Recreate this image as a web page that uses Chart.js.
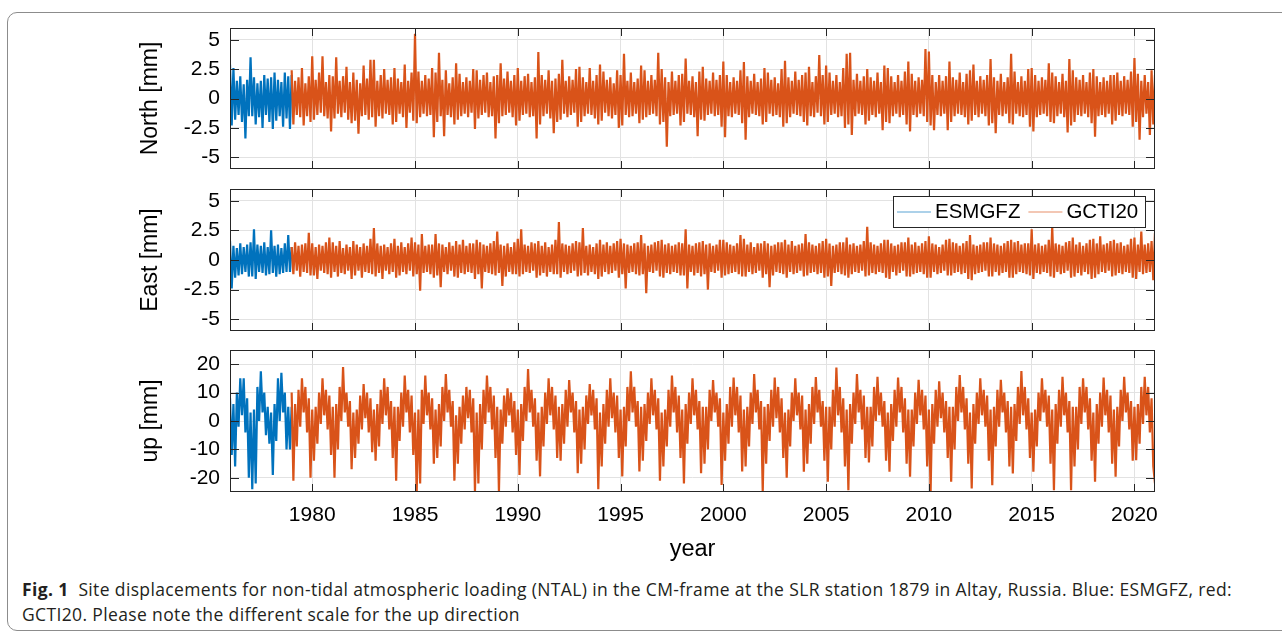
<!DOCTYPE html>
<html><head><meta charset="utf-8">
<script src="https://cdn.jsdelivr.net/npm/chart.js@4"></script>
<style>
html,body{margin:0;padding:0;background:#fff;width:1282px;height:632px;overflow:hidden;position:relative}
.frame{position:absolute;left:7px;top:12px;width:1320px;height:619px;border:1px solid #8c8c8c;border-radius:10px;box-sizing:border-box}
canvas{position:absolute;left:0}
#c1{top:0} #c2{top:180px} #c3{top:340px}
.caption{position:absolute;left:22px;top:577px;font-family:'Open Sans',sans-serif;font-size:17.5px;line-height:25px;color:#231f20;white-space:nowrap}
.caption b{font-weight:700}
</style></head>
<body>
<div class="frame"></div>
<canvas id="c1" width="1282" height="180"></canvas>
<canvas id="c2" width="1282" height="160"></canvas>
<canvas id="c3" width="1282" height="235"></canvas>
<div class="caption" id="cap"><span id="l1"><b>Fig. 1</b>&nbsp; Site displacements for non-tidal atmospheric loading (NTAL) in the CM-frame at the SLR station 1879 in Altay, Russia. Blue: ESMGFZ, red:</span><br><span id="l2">GCTI20. Please note the different scale for the up direction</span></div>
<script>
// ---- labels / ticks ----
const seriesNames = ['ESMGFZ', 'GCTI20'];
const seriesColors = ['#0072BD', '#D95319'];
const panelTitles = ['North [mm]', 'East [mm]', 'up [mm]'];
const xTitle = 'year';
const xTickValues = [1980, 1985, 1990, 1995, 2000, 2005, 2010, 2015, 2020];
const neTickValues = [-5, -2.5, 0, 2.5, 5];
const upTickValues = [-20, -10, 0, 10, 20];
const xRange = [1976, 2021];
const esmgfzStart = 1976, gcti20Start = 1979, sampleStep = 1 / 12;

// ---- data: monthly readings (one row per year, alternating local highs / lows) ----
const northESMGFZ = [
 2.9,-2.3,2.6,-1.8,1.5,-1.4,1.9,-2.0,1.2,-3.4,1.6,-1.5,
 3.5,-1.5,1.8,-2.2,1.3,-1.6,1.5,-2.5,2.0,-1.4,1.7,-2.0,
 1.8,-2.6,2.2,-1.9,1.6,-1.5,1.4,-2.4,2.2,-1.7,1.9,-2.6,
 2.0];
const northGCTI20 = [
 2.4,-2.2,1.5,-1.4,1.8,-1.6,2.6,-2.3,1.3,-1.5,1.9,-2.0,
 3.6,-1.8,1.6,-1.4,2.2,-1.2,3.6,-1.5,1.4,-1.7,2.0,-2.8,
 1.9,-1.7,3.5,-1.3,1.5,-1.6,1.9,-1.2,2.7,-1.8,1.4,-2.1,
 2.2,-1.9,1.6,-3.0,1.3,-1.5,2.8,-1.4,1.7,-1.8,3.3,-1.6,
 3.3,-2.4,1.5,-1.5,2.0,-1.7,2.5,-1.3,1.6,-1.4,1.8,-2.2,
 2.6,-2.0,1.7,-1.3,1.4,-1.6,2.9,-2.5,1.5,-1.2,2.2,-1.9,
 5.5,-2.1,2.3,-1.6,1.5,-1.3,2.0,-1.5,1.7,-1.4,2.6,-3.3,
 2.2,-2.0,3.9,-1.5,1.6,-3.2,2.4,-1.4,1.3,-1.6,1.8,-2.2,
 3.0,-1.8,2.1,-1.5,1.4,-1.3,1.8,-1.6,1.5,-1.2,2.5,-2.6,
 2.4,-1.7,1.6,-1.4,2.0,-1.2,2.2,-1.6,1.4,-1.5,1.9,-3.4,
 2.0,-2.1,3.0,-1.5,1.7,-1.4,2.3,-1.2,1.5,-1.6,2.0,-2.3,
 2.6,-1.9,1.5,-1.4,1.9,-1.3,2.1,-1.6,1.4,-1.5,1.8,-3.4,
 3.95,-2.2,2.0,-1.5,1.6,-1.3,2.4,-1.7,1.5,-2.95,1.7,-2.0,
 2.1,-1.8,3.3,-1.3,1.5,-1.6,1.9,-1.4,1.6,-1.2,2.5,-2.4,
 2.7,-2.0,1.8,-1.5,1.4,-1.3,2.6,-1.4,1.5,-1.7,2.0,-2.2,
 2.9,-1.9,2.3,-1.2,1.6,-1.5,1.8,-1.7,1.3,-1.4,2.4,-2.5,
 2.0,-2.3,3.8,-1.4,1.5,-1.6,2.2,-1.5,1.4,-1.3,1.7,-2.1,
 2.8,-1.8,2.4,-1.6,1.5,-1.4,2.0,-1.3,1.6,-1.5,3.9,-2.2,
 2.5,-2.0,1.8,-4.1,1.4,-1.5,2.3,-1.4,1.5,-1.3,2.0,-2.3,
 2.1,-2.0,3.4,-1.3,1.5,-1.4,1.9,-1.6,1.4,-3.2,2.3,-1.8,
 2.7,-1.9,1.7,-1.4,1.5,-1.3,2.2,-1.5,1.6,-1.4,2.0,-2.4,
 3.15,-3.3,2.0,-1.5,1.4,-1.6,1.8,-1.3,1.5,-1.4,2.4,-2.1,
 3.1,-3.5,1.9,-1.6,1.5,-1.3,2.1,-1.4,1.4,-1.5,1.7,-2.2,
 2.6,-2.0,2.2,-1.3,1.6,-1.5,1.8,-1.4,1.3,-1.6,2.5,-2.4,
 3.2,-2.1,1.8,-1.6,1.5,-1.3,2.3,-1.4,1.6,-1.5,2.0,-2.0,
 2.2,-2.3,2.7,-1.5,1.4,-1.6,1.9,-1.2,3.7,-1.5,2.0,-2.2,
 2.8,-2.0,2.2,-1.4,1.5,-1.3,2.0,-1.6,1.4,-1.5,2.6,-2.5,
 3.8,-2.2,3.9,-3.1,1.6,-1.5,2.1,-1.3,1.5,-1.4,1.9,-2.2,
 2.5,-1.9,1.8,-1.4,1.5,-1.6,2.2,-1.3,1.4,-2.7,2.8,-2.0,
 2.6,-2.1,1.9,-1.5,1.4,-1.3,2.0,-1.6,1.5,-1.4,2.3,-2.2,
 3.15,-2.8,2.1,-1.4,1.5,-1.6,1.8,-1.3,1.6,-1.5,4.2,-2.0,
 4.0,-2.3,2.0,-2.7,1.4,-1.4,2.0,-1.5,1.5,-1.3,1.9,-2.7,
 3.15,-2.0,1.8,-1.5,1.6,-1.3,2.2,-1.4,1.4,-1.6,2.1,-2.2,
 2.4,-1.9,2.9,-1.4,1.5,-1.6,1.9,-1.3,1.6,-1.5,2.0,-2.3,
 3.35,-2.1,1.8,-2.95,1.5,-1.4,2.1,-1.5,1.4,-1.3,1.8,-2.1,
 3.8,-2.2,2.3,-1.3,1.4,-1.5,1.9,-1.6,1.5,-1.4,2.5,-2.4,
 2.6,-2.8,2.0,-1.6,1.5,-1.4,1.8,-1.3,1.6,-1.5,3.0,-2.0,
 2.2,-2.1,1.9,-1.5,1.4,-1.3,2.1,-1.6,1.5,-2.9,3.35,-2.3,
 2.4,-2.0,1.8,-1.4,1.6,-1.5,2.0,-1.3,1.4,-1.6,2.2,-2.1,
 2.5,-3.25,1.9,-1.5,1.4,-1.4,1.8,-1.6,1.5,-1.3,2.0,-2.2,
 2.0,-1.9,2.2,-1.4,1.5,-1.5,1.9,-1.3,1.6,-1.4,2.3,-2.4,
 3.45,-2.0,2.1,-3.5,1.5,-1.6,2.0,-1.3,1.4,-3.1,2.4,-2.2,
 2.0];

const eastESMGFZ = [
 1.6,-2.4,1.2,-1.5,1.0,-1.3,1.4,-1.2,1.1,-1.0,1.3,-1.4,
 1.5,-1.4,2.6,-1.6,1.3,-1.0,1.2,-1.1,1.5,-1.3,1.1,-1.2,
 2.5,-1.1,1.2,-1.4,1.3,-1.2,1.0,-1.1,1.4,-1.0,2.1,-1.0,
 1.1];
const eastGCTI20 = [
 1.1,-1.2,1.5,-0.9,1.2,-1.4,1.3,-1.0,1.4,-1.1,2.3,-1.3,
 1.4,-1.3,1.1,-1.6,1.3,-0.9,1.2,-1.1,1.5,-1.2,1.9,-1.5,
 1.5,-1.0,1.2,-1.4,1.6,-1.1,1.0,-1.2,1.3,-0.9,1.1,-1.6,
 1.6,-1.3,1.3,-0.9,1.1,-1.5,1.4,-1.0,1.2,-1.1,1.8,-1.2,
 2.7,-1.4,1.4,-1.1,1.2,-1.6,1.3,-0.9,1.1,-1.2,1.4,-1.0,
 1.8,-1.5,1.2,-1.3,1.5,-1.0,1.1,-1.2,1.4,-0.9,1.9,-1.4,
 1.5,-1.2,1.3,-2.6,2.2,-1.1,1.2,-1.0,1.3,-1.2,1.3,-1.5,
 2.2,-1.3,1.4,-2.3,1.3,-1.0,1.1,-1.2,1.5,-0.9,1.2,-1.4,
 1.6,-1.5,1.3,-1.1,1.7,-1.2,1.2,-1.0,1.4,-1.1,1.4,-1.6,
 1.7,-1.2,1.5,-2.4,1.3,-1.0,1.2,-1.1,1.4,-1.2,1.6,-1.3,
 2.4,-1.1,1.3,-2.2,1.2,-1.4,1.4,-1.0,1.1,-1.2,1.5,-1.2,
 1.8,-1.4,2.6,-1.2,1.3,-1.0,1.2,-1.1,1.5,-0.9,1.4,-1.5,
 1.6,-1.3,1.2,-1.1,1.5,-1.4,1.1,-1.0,1.3,-1.2,1.7,-1.2,
 3.2,-1.5,1.4,-1.0,1.3,-1.2,1.2,-1.1,1.4,-0.9,1.6,-1.4,
 1.5,-1.3,2.7,-1.1,1.2,-1.3,1.3,-1.0,1.1,-1.2,1.4,-1.6,
 1.7,-1.4,1.3,-1.0,1.5,-1.2,1.2,-1.1,1.4,-0.9,1.6,-1.5,
 1.8,-1.2,1.4,-2.4,1.3,-1.1,1.2,-1.0,1.4,-1.2,1.5,-1.3,
 2.1,-1.2,1.4,-2.8,1.2,-1.0,1.3,-1.1,1.5,-0.9,1.6,-1.4,
 1.7,-1.5,1.3,-1.1,1.4,-1.2,1.2,-1.0,1.3,-1.1,1.5,-1.3,
 1.4,-1.3,2.6,-2.4,1.3,-1.0,1.2,-1.3,1.4,-1.1,1.5,-1.4,
 1.6,-1.2,1.3,-2.5,1.4,-1.0,1.2,-1.1,1.3,-0.9,1.7,-1.5,
 1.7,-1.3,1.5,-1.2,1.3,-1.1,1.2,-1.0,1.4,-1.2,2.1,-1.4,
 1.8,-1.4,1.3,-1.0,1.5,-1.2,1.1,-1.1,1.4,-0.9,1.4,-1.5,
 1.6,-1.2,1.4,-2.3,1.2,-1.3,1.3,-1.0,1.5,-1.1,1.5,-1.2,
 1.7,-1.5,1.3,-1.0,1.6,-1.2,1.2,-1.1,1.3,-0.9,1.4,-1.4,
 2.2,-1.3,1.5,-1.1,1.3,-1.0,1.2,-1.2,1.4,-1.1,1.6,-1.5,
 1.8,-1.4,1.4,-2.2,1.2,-1.1,1.3,-1.0,1.5,-1.2,1.5,-1.3,
 1.9,-1.5,1.3,-1.2,1.4,-1.0,1.2,-1.1,1.3,-0.9,1.6,-1.4,
 2.8,-1.3,1.5,-1.1,1.3,-1.2,1.2,-1.0,1.4,-1.1,1.7,-1.5,
 1.7,-1.6,1.4,-1.0,1.2,-1.3,1.3,-1.1,1.5,-0.9,1.5,-1.4,
 1.9,-1.4,1.3,-1.2,1.5,-1.1,1.2,-1.0,1.4,-1.2,1.6,-1.5,
 2.0,-1.5,1.4,-1.0,1.3,-1.2,1.1,-1.1,1.3,-0.9,1.7,-1.3,
 1.8,-1.3,1.5,-1.1,1.4,-1.0,1.2,-1.2,1.4,-1.1,1.6,-1.6,
 2.1,-1.7,1.3,-1.2,1.2,-1.1,1.3,-1.0,1.5,-0.9,1.5,-1.4,
 1.9,-1.4,1.4,-1.0,1.3,-1.3,1.2,-1.1,1.4,-1.0,1.6,-1.5,
 1.7,-1.5,1.5,-1.2,1.6,-1.0,1.3,-1.1,1.4,-1.2,1.4,-1.3,
 2.6,-1.6,1.3,-1.1,1.4,-1.2,1.2,-1.0,1.3,-1.1,1.7,-1.4,
 2.8,-1.5,1.4,-1.0,1.3,-1.2,1.2,-1.1,1.5,-0.9,1.6,-1.5,
 1.9,-1.4,1.3,-1.1,1.5,-1.3,1.2,-1.0,1.4,-1.2,1.7,-1.6,
 1.8,-1.5,1.4,-1.2,2.0,-1.0,1.3,-1.1,1.4,-0.9,1.6,-1.4,
 1.7,-1.3,1.4,-1.1,1.5,-1.2,1.2,-1.0,1.3,-1.1,1.8,-1.5,
 1.9,-1.6,1.3,-1.0,2.4,-1.2,1.3,-1.1,1.4,-1.0,1.6,-1.7,
 2.3];

const upESMGFZ = [
 8,-12,6,-16,10,-2,15,2,15,-4,8,-20,
 3,-24,4,-22,12,0,17.5,3,10,-5,5,-8,
 3,-19,6,-7,15,0,17,3,10,-10,5,-10,
 5];
const upGCTI20 = [
 10,-21,6,-9,11,-2,15,3,12,-4,8,-20,
 4,-14,5,-8,10,-1,15,2,11,-3,9,-12,
 5,-20,6,-10,12,0,19,3,10,-2,7,-17,
 3,-13,4,-8,9,-3,13,1,10,-4,8,-11,
 4,-14,6,-9,11,-1,15,2,12,-3,7,-13,
 5,-21,5,-7,10,-2,16,3,11,-4,9,-12,
 3,-25,4,-22,11,-1,16,2,10,-3,8,-15,
 4,-13,6,-9,12,0,16.5,3,11,-2,7,-21,
 2,-15,5,-8,9,-3,12,1,11,-4,8,-25,
 3,-22,6,-10,11,-1,16,3,12,-3,9,-13,
 5,-25,4,-8,9,-2,11.5,2,10,-4,7,-12,
 4,-19,6,-7,12,0,18.3,3,11,-2,8,-14,
 3,-19.5,5,-9,10,-1,15,2,12,-3,9,-13,
 5,-14,6,-8,11,-2,14.4,3,10,-4,7,-18.4,
 4,-15,5,-10,9,-1,13,2,11,-3,8,-24,
 3,-16,6,-8,11,-2,15,1,10,-4,9,-13,
 4,-19.5,5,-9,12,0,17.5,3,12,-2,7,-17.8,
 5,-14,6,-7,10,-1,15,2,11,-3,8,-21,
 3,-16,4,-9,11,-2,16,3,12,-4,9,-13,
 4,-22,6,-8,10,-1,15,2,11,-3,7,-18.4,
 5,-15,5,-10,11,0,14.4,3,10,-2,8,-22.5,
 3,-14,6,-8,12,-2,15.3,2,12,-4,9,-17.8,
 4,-16,5,-9,10,-1,16.5,3,11,-3,7,-25,
 5,-15,6,-7,11,-2,15.3,1,12,-4,8,-13,
 3,-20,4,-9,10,0,15,2,10,-3,9,-17.9,
 4,-15,6,-8,12,-1,15.5,3,11,-2,7,-14,
 5,-21.4,5,-10,11,-2,18.8,2,12,-4,8,-16,
 4,-24.4,6,-8,10,-1,16.5,3,11,-3,9,-13,
 5,-14.6,5,-9,12,0,15.6,2,10,-2,7,-14,
 3,-17.9,6,-7,11,-2,15.3,3,12,-4,8,-15,
 4,-19.6,4,-9,10,-1,14.5,2,11,-3,9,-16,
 4,-24.9,6,-8,11,-2,14,1,10,-4,7,-13,
 5,-21.4,5,-10,12,0,16.2,3,12,-3,8,-15,
 3,-23.8,6,-8,10,-1,15,2,11,-2,9,-14,
 4,-22.6,5,-9,11,-2,14.5,3,10,-4,7,-16,
 5,-18.5,6,-7,12,-1,17.6,2,12,-3,8,-13,
 3,-17.9,4,-9,10,0,15,3,11,-2,9,-15,
 4,-24.4,6,-8,11,-2,15.6,2,10,-4,7,-24.4,
 5,-16,5,-10,12,-1,15,3,12,-3,8,-14,
 3,-21.4,6,-8,10,-2,15.3,2,11,-4,9,-15,
 4,-19.6,5,-9,11,0,15.6,3,10,-3,7,-14,
 5,-13.8,6,-8,12,-1,15.6,2,12,-4,8,-16,
 -22];

// ---- rendering ----
const FONT = "'Liberation Sans', Arial, Helvetica, sans-serif";
const toPoints = (start, arr) => arr.map((v, i) => ({x: start + i * sampleStep, y: v}));

const axesBoxPlugin = {
  id: 'axesBox',
  afterDatasetsDraw(chart) {
    const {ctx, chartArea: a, scales: {x, y}} = chart;
    ctx.save();
    ctx.strokeStyle = '#262626';
    ctx.lineWidth = 1;
    ctx.beginPath();
    x.ticks.forEach(t => {
      const px = Math.round(x.getPixelForValue(t.value)) + 0.5;
      ctx.moveTo(px, a.bottom); ctx.lineTo(px, a.bottom - 8);
      ctx.moveTo(px, a.top); ctx.lineTo(px, a.top + 8);
    });
    y.ticks.forEach(t => {
      const py = Math.round(y.getPixelForValue(t.value)) + 0.5;
      ctx.moveTo(a.left, py); ctx.lineTo(a.left + 9, py);
      ctx.moveTo(a.right, py); ctx.lineTo(a.right - 9, py);
    });
    ctx.stroke();
    ctx.strokeRect(Math.round(a.left) + 0.5, Math.round(a.top) + 0.5,
      Math.round(a.right - a.left) - 1, Math.round(a.bottom - a.top) - 1);
    ctx.restore();
  }
};

const legendPlugin = {
  id: 'boxLegend',
  afterDraw(chart) {
    const {ctx, chartArea: a} = chart;
    ctx.save();
    ctx.font = '20.5px ' + FONT;
    const lineLen = 34, gapLT = 4, gapItems = 8, padL = 4, padR = 7, h = 31;
    const widths = seriesNames.map(n => ctx.measureText(n).width);
    let total = padL + padR + gapItems * (seriesNames.length - 1);
    widths.forEach(w => total += lineLen + gapLT + w);
    const right = a.right - 10, left = Math.round(right - total), top = Math.round(a.top + 7);
    ctx.fillStyle = '#fff';
    ctx.fillRect(left, top, right - left, h);
    ctx.strokeStyle = '#262626';
    ctx.lineWidth = 1;
    ctx.strokeRect(left + 0.5, top + 0.5, right - left, h);
    let cx = left + padL;
    const cy = top + 16;
    seriesNames.forEach((n, i) => {
      ctx.strokeStyle = seriesColors[i];
      ctx.globalAlpha = 0.65;
      ctx.lineWidth = 1.2;
      ctx.beginPath(); ctx.moveTo(cx, cy); ctx.lineTo(cx + lineLen, cy); ctx.stroke();
      ctx.globalAlpha = 1;
      cx += lineLen + gapLT;
      ctx.fillStyle = '#000';
      ctx.textBaseline = 'middle';
      ctx.fillText(n, cx, cy);
      cx += widths[i] + gapItems;
    });
    ctx.restore();
  }
};

function zeroPad(s) { s.paddingTop = 0; s.paddingBottom = 0; s.paddingLeft = 0; s.paddingRight = 0; }

function makePanel(id, o) {
  const canvas = document.getElementById(id);
  const H = canvas.height;
  new Chart(canvas, {
    type: 'line',
    data: {
      datasets: [
        {label: seriesNames[0], data: toPoints(esmgfzStart, o.blue), borderColor: seriesColors[0], order: 1},
        {label: seriesNames[1], data: toPoints(gcti20Start, o.red), borderColor: seriesColors[1], order: 0}
      ]
    },
    options: {
      responsive: false, animation: false, devicePixelRatio: 1,
      parsing: false, normalized: true,
      layout: {padding: {top: o.top, right: 1282 - 1155, left: 0, bottom: 0}},
      elements: {point: {radius: 0}, line: {borderWidth: 2.2, tension: 0}},
      plugins: {legend: {display: false}, tooltip: {enabled: false}},
      scales: {
        x: {
          type: 'linear', min: xRange[0], max: xRange[1],
          afterBuildTicks: s => { s.ticks = xTickValues.map(v => ({value: v})); },
          afterFit: s => { s.height = H - o.bottom; zeroPad(s); },
          grid: {color: '#e2e2e2', lineWidth: 1, drawTicks: false},
          border: {display: false},
          ticks: {display: o.showX, padding: 11, color: '#000', font: {family: FONT, size: 21}, maxRotation: 0,
                  callback: v => String(v)},
          title: {display: o.showX, text: xTitle, color: '#000', font: {family: FONT, size: 23.5},
                  padding: {top: 0, bottom: 11}}
        },
        y: {
          type: 'linear', min: o.min, max: o.max,
          afterBuildTicks: s => { s.ticks = o.ticks.map(v => ({value: v})); },
          afterFit: s => { s.width = 230; zeroPad(s); },
          grid: {color: '#e2e2e2', lineWidth: 1, drawTicks: false},
          border: {display: false},
          ticks: {padding: 10, color: '#000', font: {family: FONT, size: 21}, callback: v => String(v)},
          title: {display: true, text: o.title, color: '#000', font: {family: FONT, size: 23},
                  padding: {top: 137, bottom: 0}}
        }
      }
    },
    plugins: o.legend ? [axesBoxPlugin, legendPlugin] : [axesBoxPlugin]
  });
}

makePanel('c1', {blue: northESMGFZ, red: northGCTI20, min: -6, max: 6, ticks: neTickValues,
  title: panelTitles[0], top: 28, bottom: 169, showX: false});
makePanel('c2', {blue: eastESMGFZ, red: eastGCTI20, min: -6, max: 6, ticks: neTickValues,
  title: panelTitles[1], top: 9, bottom: 151, showX: false, legend: true});
makePanel('c3', {blue: upESMGFZ, red: upGCTI20, min: -25, max: 25, ticks: upTickValues,
  title: panelTitles[2], top: 10, bottom: 152, showX: true});

// fit caption first line to the figure width
function fitCaption() {
  const l1 = document.getElementById('l1');
  const cap = document.getElementById('cap');
  const w = l1.getBoundingClientRect().width;
  const n = l1.textContent.length;
  cap.style.letterSpacing = ((1210 - w) / n).toFixed(3) + 'px';
}
if (document.fonts && document.fonts.ready) document.fonts.ready.then(fitCaption); else fitCaption();
</script>
</body></html>
